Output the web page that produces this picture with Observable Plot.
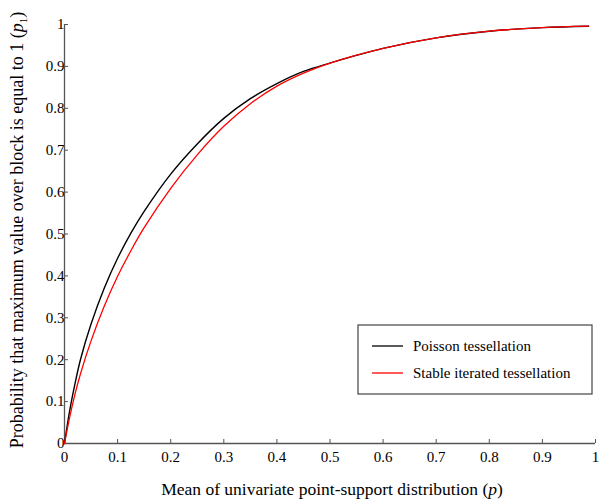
<!DOCTYPE html>
<html>
<head>
<meta charset="utf-8">
<script src="https://cdn.jsdelivr.net/npm/d3@7"></script>
<script src="https://cdn.jsdelivr.net/npm/@observablehq/plot@0.6"></script>
<style>
  html, body { margin: 0; padding: 0; background: #fff; }
  #chart { width: 600px; height: 500px; }
</style>
</head>
<body>
<div id="chart"></div>
<script>
// Mean of univariate point-support distribution (p)
const pValues = [0, 0.01, 0.02, 0.03, 0.05, 0.075, 0.1, 0.125, 0.15, 0.2, 0.25, 0.3, 0.35, 0.4, 0.45, 0.5, 0.6, 0.7, 0.8, 0.9, 0.987];
// Poisson tessellation
const poissonValues = [0, 0.080, 0.144, 0.200, 0.285, 0.371, 0.442, 0.502, 0.554, 0.643, 0.715, 0.776, 0.823, 0.859, 0.888, 0.908, 0.943, 0.968, 0.984, 0.9925, 0.996];
// Stable iterated tessellation
const stitValues = [0, 0.064, 0.119, 0.166, 0.245, 0.328, 0.399, 0.460, 0.515, 0.609, 0.689, 0.757, 0.811, 0.853, 0.884, 0.908, 0.943, 0.968, 0.984, 0.9925, 0.996];

const seriesNames = ["Poisson tessellation", "Stable iterated tessellation"];
const seriesColors = ["#000000", "#ff0000"];
const xTicks = [0, 0.1, 0.2, 0.3, 0.4, 0.5, 0.6, 0.7, 0.8, 0.9, 1];
const yTicks = [0, 0.1, 0.2, 0.3, 0.4, 0.5, 0.6, 0.7, 0.8, 0.9, 1];

const rows = [];
pValues.forEach((p, i) => {
  rows.push({p, v: poissonValues[i], s: seriesNames[0]});
  rows.push({p, v: stitValues[i], s: seriesNames[1]});
});

const font = "Liberation Serif";
const axisColor = "#555";

const plot = Plot.plot({
  width: 600,
  height: 500,
  marginLeft: 64,
  marginRight: 5,
  marginTop: 24,
  marginBottom: 57,
  style: {fontFamily: font, fontSize: "15px", color: "#000", background: "#fff", overflow: "visible"},
  x: {domain: [0, 1]},
  y: {domain: [0, 1]},
  color: {domain: seriesNames, range: seriesColors},
  marks: [
    Plot.axisX({ticks: xTicks, tickFormat: d => String(d), tickSize: -4, tickPadding: 12, stroke: axisColor, label: null, fontSize: 15, fill: "#000"}),
    Plot.axisY({ticks: yTicks, tickFormat: d => String(d), tickSize: -4, tickPadding: 4, stroke: axisColor, label: null, fontSize: 15, fill: "#000"}),
    Plot.ruleY([0], {stroke: axisColor, strokeWidth: 1.3}),
    Plot.ruleX([0], {stroke: axisColor, strokeWidth: 1.3}),
    Plot.line(rows.filter(d => d.s === seriesNames[0]), {x: "p", y: "v", stroke: "s", strokeWidth: 1.4, curve: "catmull-rom"}),
    Plot.line(rows.filter(d => d.s === seriesNames[1]), {x: "p", y: "v", stroke: "s", strokeWidth: 1.3, curve: "catmull-rom"})
  ]
});

document.getElementById("chart").appendChild(plot);

const svg = d3.select(plot);

// x-axis label
const xl = svg.append("text")
  .attr("x", 332).attr("y", 495)
  .attr("text-anchor", "middle")
  .attr("font-family", font).attr("font-size", 17.5).attr("fill", "#000");
xl.append("tspan").text("Mean of univariate point-support distribution (");
xl.append("tspan").attr("font-style", "italic").text("p");
xl.append("tspan").text(")");

// y-axis label
const yl = svg.append("text")
  .attr("transform", "translate(23,230) rotate(-90)")
  .attr("text-anchor", "middle")
  .attr("font-family", font).attr("font-size", 18).attr("fill", "#000");
yl.append("tspan").text("Probability that maximum value over block is equal to 1 (");
yl.append("tspan").attr("font-style", "italic").text("p");
yl.append("tspan").attr("dy", 4).attr("font-size", 11).text("1");
yl.append("tspan").attr("dy", -4).text(")");

// legend
const lg = svg.append("g").attr("transform", "translate(358,325)");
lg.append("rect").attr("width", 234).attr("height", 69).attr("fill", "#fff").attr("stroke", "#444").attr("stroke-width", 1.2);
seriesNames.forEach((name, i) => {
  const y = 21 + i * 27;
  lg.append("line").attr("x1", 14).attr("x2", 45).attr("y1", y).attr("y2", y)
    .attr("stroke", seriesColors[i]).attr("stroke-width", 1.3);
  lg.append("text").attr("x", 55).attr("y", y + 5)
    .attr("text-anchor", "start")
    .attr("font-family", font).attr("font-size", 15).attr("fill", "#000").text(name);
});
</script>
</body>
</html>
